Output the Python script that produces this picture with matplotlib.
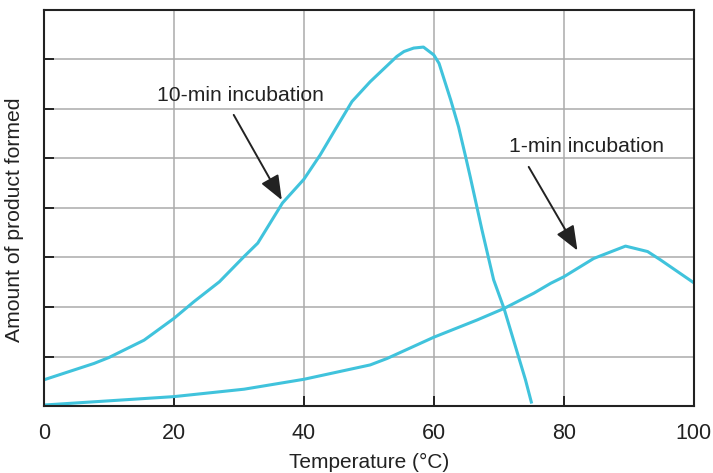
import numpy as np
import matplotlib
matplotlib.use("Agg")
from matplotlib import pyplot as plt

plt.rcParams['font.family'] = ['Liberation Sans', 'DejaVu Sans']

# 10-min incubation curve (temperature, amount in grid units)
temp_10 = [0, 7.7, 10, 15.4, 20, 23.1, 27, 30.8, 32.9, 36.7, 40, 42.5, 44.8, 47.4,
           50.2, 54.3, 55.4, 56.9, 58.4, 60, 60.8, 62.6, 63.8, 64.9, 65.6, 67.4, 69.2,
           70.8, 74.1, 75]
amount_10 = [0.53, 0.86, 0.98, 1.33, 1.77, 2.11, 2.51, 3.02, 3.29, 4.1, 4.58, 5.07, 5.58, 6.15,
             6.55, 7.06, 7.16, 7.23, 7.25, 7.09, 6.92, 6.18, 5.64, 5.03, 4.63, 3.56, 2.55,
             1.97, 0.53, 0.08]

# 1-min incubation curve
temp_1 = [0, 20, 30.8, 40, 50.2, 52.8, 60, 66.7, 70.8, 75.4, 78, 80, 84.6, 89.5, 92.9, 94.9, 100]
amount_1 = [0.02, 0.19, 0.34, 0.54, 0.83, 0.96, 1.39, 1.74, 1.97, 2.28, 2.48, 2.61, 2.98, 3.23, 3.12, 2.95, 2.49]

x_ticks = [0, 20, 40, 60, 80, 100]
line_color = '#40c3dc'

fig = plt.figure(figsize=(7.13, 4.73), dpi=100)
ax = fig.add_axes([0.0617, 0.1416, 0.9113, 0.8374])

ax.plot(temp_10, amount_10, color=line_color, lw=2.2, solid_joinstyle='round')
ax.plot(temp_1, amount_1, color=line_color, lw=2.2, solid_joinstyle='round')

ax.set_xlim(0, 100)
ax.set_ylim(0, 8)
ax.set_xticks(x_ticks)
ax.set_yticks(range(0, 9))
ax.set_yticklabels([])
ax.grid(True, color='#ababab', lw=1.1)
ax.set_axisbelow(True)
ax.tick_params(axis='both', direction='in', length=7, width=1.4, color='#222222',
               labelsize=15.5, pad=12, labelcolor='#222222')
for s in ax.spines.values():
    s.set_linewidth(1.5)
    s.set_color('#222222')

ax.set_xlabel('Temperature (°C)', fontsize=15, labelpad=7, color='#222222')
fig.text(15 / 713, 1 - 220 / 473, 'Amount of product formed', rotation=90,
         ha='center', va='center', fontsize=15.2, color='#222222')

ax.text(30.2, 6.28, '10-min incubation', ha='center', va='center', fontsize=15.2, color='#222222')
ax.text(83.5, 5.24, '1-min incubation', ha='center', va='center', fontsize=15.2, color='#222222')

arrow = dict(arrowstyle='-|>,head_length=0.75,head_width=0.3', color='#222222',
             lw=1.4, shrinkA=0, shrinkB=0, mutation_scale=20)
ax.annotate('', xy=(36.6, 4.16), xytext=(29.2, 5.88), arrowprops=arrow)
ax.annotate('', xy=(82.1, 3.14), xytext=(74.6, 4.83), arrowprops=arrow)

fig.savefig('out.png', dpi=100)
